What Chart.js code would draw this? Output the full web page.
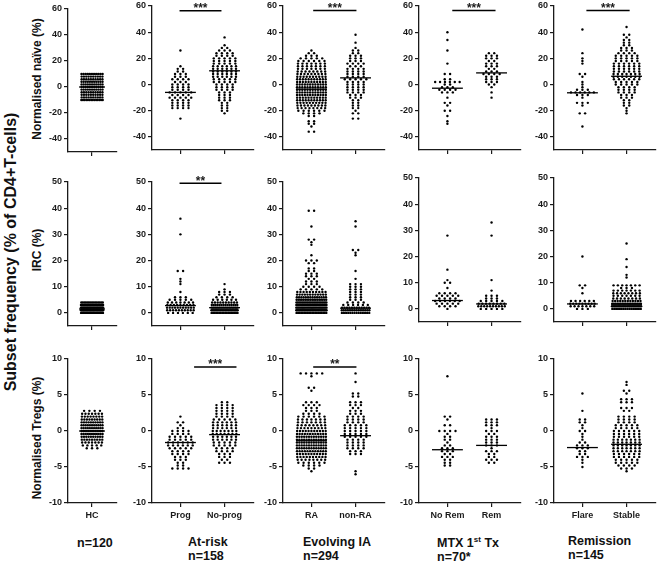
<!DOCTYPE html>
<html>
<head>
<meta charset="utf-8">
<script src="https://cdn.jsdelivr.net/npm/chart.js@4.4.1/dist/chart.umd.min.js"></script>
<style>
  body { margin: 0; width: 658px; height: 562px; position: relative; overflow: hidden; background: #fff;
         font-family: 'Liberation Sans', Arial, sans-serif; color: #111; }
  canvas { position: absolute; }
  .lbl { position: absolute; font-weight: bold; white-space: nowrap; line-height: 14px; }
  .rot { transform: translate(-50%, -50%) rotate(-90deg); }
  sup { font-size: 8px; line-height: 0; vertical-align: 5px; }
</style>
</head>
<body>
<div class="lbl rot" style="left:11px;top:252px;font-size:16px">Subset frequency (% of CD4+T-cells)</div>
<div class="lbl rot" style="left:37px;top:79px;font-size:12px">Normalised naïve (%)</div>
<div class="lbl rot" style="left:37px;top:250px;font-size:12px">IRC (%)</div>
<div class="lbl rot" style="left:37px;top:438px;font-size:12px">Normalised Tregs (%)</div>
<div id="cohorts"></div>

<script>
// groups shown on the x axes, left to right
const categories = ['HC', 'Prog', 'No-prog', 'RA', 'non-RA', 'No Rem', 'Rem', 'Flare', 'Stable'];
const cohortNames = ['', 'At-risk', 'Evolving IA', 'MTX 1<sup>st</sup> Tx', 'Remission'];
const cohortN = ['n=120', 'n=158', 'n=294', 'n=70*', 'n=145'];

// y tick labels per row
const naiveTicks = [60, 40, 20, 0, -20, -40];
const ircTicks = [50, 40, 30, 20, 10, 0];
const tregTicks = [10, 5, 0, -5, -10];

// dots: [value, number of dots at that value]
const naiveHC = [[-10,14],[-8,10],[-6,10],[-4,10],[-2,11],[0,11],[2,11],[4,11],[6,10],[8,10],[10,12]];
const naiveProg = [[-26,1],[-18,4],[-16,4],[-14,4],[-12,4],[-10,5],[-8,4],[-6,5],[-4,4],[-2,4],[0,4],[2,3],[4,4],[6,3],[8,3],[10,2],[12,2],[14,1],[26,1]];
const naiveNoProg = [[-22,1],[-20,2],[-18,2],[-16,2],[-14,2],[-12,3],[-10,3],[-8,3],[-6,3],[-4,4],[-2,4],[0,4],[2,5],[4,5],[6,6],[8,6],[10,6],[12,6],[14,6],[16,5],[18,5],[20,5],[22,4],[24,4],[26,3],[28,2],[30,1],[36,1]];
const naiveRA = [[-36,2],[-32,1],[-30,2],[-28,2],[-24,2],[-22,4],[-20,6],[-18,8],[-16,9],[-14,10],[-12,11],[-10,11],[-8,12],[-6,12],[-4,12],[-2,12],[0,12],[2,11],[4,11],[6,10],[8,9],[10,8],[12,7],[14,7],[16,7],[18,6],[20,5],[22,3],[24,2],[26,1]];
const naiveNonRA = [[-26,2],[-22,2],[-20,1],[-18,2],[-16,2],[-14,2],[-12,2],[-10,3],[-8,3],[-6,4],[-4,4],[-2,4],[0,4],[2,4],[4,5],[6,4],[8,4],[10,4],[12,4],[14,3],[16,4],[18,3],[20,3],[22,3],[24,2],[26,2],[28,1],[32,1],[38,1]];
const naiveNoRem = [[-30,1],[-28,1],[-24,1],[-20,2],[-16,1],[-14,2],[-10,1],[-6,3],[-4,4],[-2,3],[0,2],[2,6],[4,2],[8,2],[16,1],[26,1],[34,1],[40,1]];
const naiveRem = [[-10,1],[-6,1],[-2,1],[0,2],[2,3],[4,3],[6,3],[8,4],[10,3],[12,2],[14,3],[16,3],[18,2],[20,3],[22,3],[24,2]];
const naiveFlare = [[-32,1],[-22,2],[-16,1],[-14,3],[-10,1],[-8,3],[-6,6],[-4,3],[-2,1],[0,1],[2,1],[6,1],[8,2],[16,1],[18,1],[20,1],[24,1],[42,1]];
const naiveStable = [[-22,1],[-20,1],[-18,1],[-16,2],[-14,2],[-12,2],[-10,3],[-8,3],[-6,4],[-4,4],[-2,4],[0,5],[2,5],[4,6],[6,7],[8,7],[10,6],[12,6],[14,6],[16,6],[18,5],[20,5],[22,5],[24,4],[26,3],[28,3],[30,2],[32,2],[34,2],[36,1],[38,2],[44,1]];

const ircHC = [[0,20],[1,30],[2,30],[3,25],[4,15]];
const ircProg = [[0,6],[1,10],[2,11],[3,9],[4,7],[5,5],[6,3],[8,1],[11,1],[12,1],[13,1],[16,2],[30,1],[36,1]];
const ircNoProg = [[0,18],[1,22],[2,18],[3,14],[4,10],[5,6],[6,4],[7,3],[8,3],[9,1],[11,1]];
const ircRA = [[0,20],[1,30],[2,28],[3,26],[4,22],[5,18],[6,14],[7,12],[8,10],[9,5],[10,4],[11,3],[12,3],[13,2],[14,3],[15,3],[16,2],[17,2],[19,2],[20,3],[22,1],[26,1],[27,1],[28,2],[33,1],[39,2]];
const ircNonRA = [[0,14],[1,16],[2,12],[3,6],[4,4],[5,3],[6,3],[7,3],[8,3],[9,3],[10,3],[11,3],[13,1],[16,1],[22,1],[23,1],[24,2],[33,1],[35,1]];
const ircNoRem = [[0,1],[1,4],[2,5],[3,6],[4,4],[5,5],[6,4],[8,1],[10,2],[11,1],[15,1],[28,1]];
const ircRem = [[0,5],[1,10],[2,8],[3,5],[4,3],[5,3],[7,1],[11,1],[28,1],[33,1]];
const ircFlare = [[0,3],[1,7],[2,9],[3,6],[6,1],[8,1],[9,2],[20,1]];
const ircStable = [[0,16],[1,24],[2,18],[3,12],[4,8],[5,7],[6,8],[7,7],[8,3],[9,7],[12,1],[13,1],[16,1],[19,1],[25,1]];

const tregHC = [[-2.4,3],[-2.0,5],[-1.6,7],[-1.2,9],[-0.8,10],[-0.4,12],[0,13],[0.4,12],[0.8,11],[1.2,10],[1.6,9],[2.0,8],[2.4,7],[2.8,4]];
const tregProg = [[-5.2,4],[-4.8,2],[-4.4,2],[-4.0,3],[-3.6,3],[-3.2,4],[-2.8,4],[-2.4,5],[-2.0,6],[-1.6,6],[-1.2,5],[-0.8,5],[-0.4,4],[0,4],[0.4,2],[0.8,1],[1.2,2],[2.0,1]];
const tregNoProg = [[-4.4,3],[-4.0,2],[-3.6,3],[-3.2,3],[-2.8,4],[-2.4,4],[-2.0,5],[-1.6,5],[-1.2,6],[-0.8,6],[-0.4,7],[0,7],[0.4,6],[0.8,6],[1.2,6],[1.6,5],[2.0,4],[2.4,4],[2.8,4],[3.2,4],[3.6,4],[4.0,2]];
const tregRA = [[-5.6,1],[-5.2,2],[-4.8,4],[-4.4,6],[-4.0,8],[-3.6,10],[-3.2,11],[-2.8,12],[-2.4,13],[-2.0,13],[-1.6,13],[-1.2,13],[-0.8,13],[-0.4,12],[0,11],[0.4,9],[0.8,8],[1.2,7],[1.6,7],[2.0,6],[2.4,4],[2.8,3],[3.2,3],[3.6,4],[4.0,3],[5.6,1],[6.0,2],[7.6,1],[8.0,5]];
const tregNonRA = [[-6.0,1],[-5.6,1],[-3.2,3],[-2.8,3],[-2.4,4],[-2.0,4],[-1.6,4],[-1.2,4],[-0.8,5],[-0.4,5],[0,5],[0.4,5],[0.8,5],[1.2,4],[1.6,4],[2.0,4],[2.4,3],[2.8,3],[3.2,2],[3.6,3],[4.0,3],[4.8,2],[5.2,2],[6.8,1],[8.0,1]];
const tregNoRem = [[-4.8,2],[-4.4,2],[-4.0,2],[-3.6,3],[-3.2,2],[-2.8,3],[-2.4,3],[-2.0,2],[-1.6,1],[-1.2,2],[-0.8,2],[-0.4,1],[0,4],[0.8,2],[1.6,1],[2.0,2],[7.6,1]];
const tregRem = [[-4.4,2],[-4.0,3],[-3.6,2],[-3.2,2],[-2.8,3],[-2.4,1],[-2.0,3],[-1.6,3],[-1.2,3],[-0.8,3],[-0.4,2],[0,3],[0.4,1],[0.8,3],[1.2,3],[1.6,3]];
const tregFlare = [[-5.0,1],[-4.4,1],[-4.0,1],[-3.6,3],[-3.2,2],[-2.8,2],[-2.4,3],[-2.0,3],[-1.6,2],[-1.2,1],[-0.8,1],[-0.4,1],[0,2],[0.4,1],[0.8,1],[1.2,2],[1.6,2],[2.8,1],[5.2,1]];
const tregStable = [[-5.6,1],[-5.2,3],[-4.8,4],[-4.4,5],[-4.0,5],[-3.6,6],[-3.2,6],[-2.8,7],[-2.4,7],[-2.0,7],[-1.6,7],[-1.2,7],[-0.8,6],[-0.4,6],[0,6],[0.4,5],[0.8,5],[1.2,4],[1.6,4],[2.0,4],[2.8,2],[3.2,3],[4.0,3],[4.4,3],[5.2,1],[5.6,2],[6.4,1],[6.8,1]];

// median lines
const naiveMedians = [0, -6, 10.5, -3.5, 5.1, -2.8, 8.9, -6.3, 6.3];
const ircMedians = [1.5, 2.8, 2, 3, 1.8, 3.2, 1.9, 1.9, 1.8];
const tregMedians = [0, -1.6, -0.5, -1.35, -0.65, -2.6, -2.0, -2.3, -1.85];

// significance bars: [row, column, from x, to x, y, stars]
const sigBars = [
    [0, 1, 0.98, 1.93, 56.4, '***'],
    [0, 2, 1.04, 2.02, 56.6, '***'],
    [0, 3, 1.11, 2.09, 56.6, '***'],
    [0, 4, 1.09, 2.07, 56.6, '***'],
    [1, 1, 0.98, 1.93, 49.5, '**'],
    [2, 1, 1.31, 2.27, 8.9, '***'],
    [2, 2, 1.04, 2.02, 8.9, '**']
];

const rows = [
    { bins: [naiveHC, naiveProg, naiveNoProg, naiveRA, naiveNonRA, naiveNoRem, naiveRem, naiveFlare, naiveStable],
      medians: naiveMedians, ticks: naiveTicks, min: -50, max: 60 },
    { bins: [ircHC, ircProg, ircNoProg, ircRA, ircNonRA, ircNoRem, ircRem, ircFlare, ircStable],
      medians: ircMedians, ticks: ircTicks, min: -5, max: 50 },
    { bins: [tregHC, tregProg, tregNoProg, tregRA, tregNonRA, tregNoRem, tregRem, tregFlare, tregStable],
      medians: tregMedians, ticks: tregTicks, min: -10, max: 10 }
];

// layout
const panelGroups = [[0], [1, 2], [3, 4], [5, 6], [7, 8]];
const colAxisX = [68, 152, 283, 419, 554];
const colWidth = [51, 104, 104, 104, 104];
const colXMin = [0.444, 0.356, 0.356, 0.356, 0.356];
const plotTops = [[9, 5.5, 5.5, 5.5, 5.5], [182, 182, 182, 178, 178], [359, 359, 359, 359, 359]];
const plotBottoms = [[152, 150, 150, 150, 150], [326, 326, 326, 322, 322], [503, 503, 503, 503, 503]];
const swarmWidth = [24, 30, 28, 32, 30, 30, 30, 28, 31];
const PX = 45;           // px per x unit
const DOT_GAP = 5.5;     // px between dots in a row
const LEFT = 45, TOP = 8, XAXIS_H = 22;
const font = { family: "'Liberation Sans', Arial, sans-serif", size: 9, weight: 'bold' };
const ink = '#1a1a1a';

function swarm(bins, cx, maxW) {
    const pts = [];
    bins.forEach(([v, n]) => {
        const gap = Math.min(DOT_GAP, maxW / n);
        for (let i = 0; i < n; i++) {
            pts.push({ x: cx + (i - (n - 1) / 2) * gap / PX, y: v });
        }
    });
    return pts;
}

const sigPlugin = {
    id: 'sig',
    afterDatasetsDraw(chart) {
        const { ctx, scales: { x, y } } = chart;
        sigBars.filter(b => b[0] === chart.$row && b[1] === chart.$col).forEach(([, , x1, x2, yv, txt]) => {
            const px1 = x.getPixelForValue(x1), px2 = x.getPixelForValue(x2), py = y.getPixelForValue(yv);
            ctx.save();
            ctx.strokeStyle = '#000';
            ctx.lineWidth = 1.5;
            ctx.beginPath();
            ctx.moveTo(px1, py);
            ctx.lineTo(px2, py);
            ctx.stroke();
            ctx.fillStyle = ink;
            ctx.font = "bold 12px 'Liberation Sans', Arial, sans-serif";
            ctx.textAlign = 'center';
            ctx.textBaseline = 'alphabetic';
            ctx.fillText(txt, (px1 + px2) / 2, py + 1.5);
            ctx.restore();
        });
    }
};

function makePanel(r, c) {
    const row = rows[r];
    const groups = panelGroups[c];
    const w = LEFT + colWidth[c] + 2;
    const plotH = plotBottoms[r][c] - plotTops[r][c];
    const h = TOP + plotH + XAXIS_H;
    const canvas = document.createElement('canvas');
    canvas.width = w;
    canvas.height = h;
    canvas.style.left = (colAxisX[c] - LEFT) + 'px';
    canvas.style.top = (plotTops[r][c] - TOP) + 'px';
    canvas.style.width = w + 'px';
    canvas.style.height = h + 'px';
    document.body.appendChild(canvas);

    const datasets = [];
    groups.forEach((g, i) => {
        const cx = i + 1;
        datasets.push({
            data: swarm(row.bins[g], cx, swarmWidth[g]),
            pointRadius: 1.2,
            pointBackgroundColor: '#000',
            pointBorderWidth: 0,
            showLine: false
        });
        const half = g === 0 ? 0.3 : 0.35;
        datasets.push({
            data: [{ x: cx - half, y: row.medians[g] }, { x: cx + half, y: row.medians[g] }],
            showLine: true,
            borderColor: '#000',
            borderWidth: 1.3,
            pointRadius: 0
        });
    });

    const chart = new Chart(canvas, {
        type: 'scatter',
        data: { datasets },
        options: {
            responsive: false,
            animation: false,
            devicePixelRatio: 1,
            layout: { padding: { top: TOP, right: 2, left: 0, bottom: 0 } },
            plugins: { legend: { display: false }, tooltip: { enabled: false } },
            scales: {
                x: {
                    type: 'linear',
                    min: colXMin[c],
                    max: colXMin[c] + colWidth[c] / PX,
                    afterBuildTicks: s => { s.ticks = groups.map((g, i) => ({ value: i + 1 })); },
                    afterFit: s => { s.height = XAXIS_H; },
                    grid: { drawOnChartArea: false, drawTicks: true, tickLength: 4, color: ink, lineWidth: 1.2 },
                    border: { display: true, color: ink, width: 1.3 },
                    ticks: {
                        callback: v => r === 2 ? categories[groups[Math.round(v) - 1]] : '',
                        font, color: ink, padding: 3, maxRotation: 0, autoSkip: false
                    }
                },
                y: {
                    min: row.min,
                    max: row.max,
                    afterBuildTicks: s => { s.ticks = row.ticks.map(v => ({ value: v })); },
                    afterFit: s => { s.width = LEFT; },
                    grid: { drawOnChartArea: false, drawTicks: true, tickLength: 4, color: ink, lineWidth: 1.2 },
                    border: { display: true, color: ink, width: 1.3 },
                    ticks: { font, color: ink, padding: 2 }
                }
            }
        },
        plugins: [sigPlugin]
    });
    chart.$row = r;
    chart.$col = c;
    chart.draw();
}

for (let r = 0; r < 3; r++) {
    for (let c = 0; c < 5; c++) makePanel(r, c);
}

// cohort labels under the columns
const cohortLeft = [77, 188, 303, 437, 568];
const cohortTop = [535, 535, 535, 536, 534];
const holder = document.getElementById('cohorts');
cohortN.forEach((n, i) => {
    if (cohortNames[i]) {
        holder.insertAdjacentHTML('beforeend',
            `<div class="lbl" style="left:${cohortLeft[i]}px;top:${cohortTop[i]}px;font-size:12.5px">${cohortNames[i]}</div>` +
            `<div class="lbl" style="left:${cohortLeft[i]}px;top:${cohortTop[i] + 14}px;font-size:12.5px">${n}</div>`);
    } else {
        holder.insertAdjacentHTML('beforeend',
            `<div class="lbl" style="left:${cohortLeft[i]}px;top:${cohortTop[i] + 1}px;font-size:12.5px">${n}</div>`);
    }
});
</script>
</body>
</html>
